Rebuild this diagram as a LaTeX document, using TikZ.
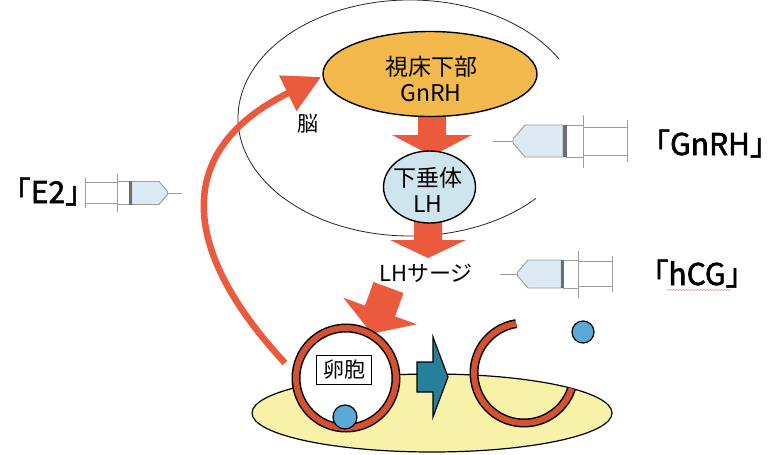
\documentclass[tikz,border=0pt]{standalone}
\usepackage{fontspec}
\newfontfamily\jp{Noto Sans CJK JP}
\newfontfamily\jpbold[FakeBold=2]{Noto Sans CJK JP}
\usetikzlibrary{shapes.geometric,arrows.meta,calc,decorations.pathmorphing}

\definecolor{arrowred}{HTML}{EC5A3E}
\definecolor{ringred}{HTML}{D45231}
\definecolor{hypo}{HTML}{F3B94D}
\definecolor{pitblue}{HTML}{CFE5EE}
\definecolor{ballblue}{HTML}{5AAAD8}
\definecolor{tealc}{HTML}{27809A}
\definecolor{ovaryc}{HTML}{F8F2A8}
\definecolor{syrgray}{HTML}{9C9C9C}
\definecolor{liquid}{HTML}{DCEBF3}
\definecolor{stopper}{HTML}{6E6E6E}
\definecolor{squiggle}{HTML}{E9A3A3}

\tikzset{
  syrline/.style={draw=syrgray, line width=0.9pt},
  % syringe with its needle tip at the origin, body along +x;
  % #1 = length of the plunger part
  pics/syringe/.style={code={
    \draw[syrline] (0,0) -- (20,0);
    \filldraw[syrline, fill=liquid] (20,-2) -- (32,-16) -- (70,-16) -- (70,16) -- (32,16) -- (20,2) -- cycle;
    \filldraw[syrline, fill=white] (73,-16) rectangle (90,16);
    \fill[stopper] (70,-16) rectangle (73.5,16);
    \filldraw[syrline, fill=white] (90,-14) rectangle (90+#1,14);
    \draw[syrline] (90,-26) -- (90,27);
    \draw[syrline] (90+#1,-21) -- (90+#1,21);
  }},
  ringline/.style={line width=9pt, black},
  ringfill/.style={line width=6pt, ringred},
  jptext/.style={font=\jp\fontsize{#1}{25.5}\selectfont},
  druglabel/.style={font=\jpbold\fontsize{30}{32}\selectfont, anchor=base, inner sep=0},
  ball/.style={circle, draw, line width=1.2pt, fill=ballblue, inner sep=0},
}

\begin{document}
\begin{tikzpicture}[x=1pt,y=-1pt]
\fill[white] (0,0) rectangle (782,455);
\useasboundingbox (0,0) rectangle (782,455);

% brain outline, open on the right
\coordinate (brain) at (410,118);
\draw[line width=0.8pt, black!85] (brain) ++(-30:172 and 118)
  arc[start angle=-30, end angle=-317, x radius=172, y radius=118];

% ovary
\node[ellipse, draw, line width=1.2pt, fill=ovaryc, minimum width=360pt,
      minimum height=78pt, inner sep=0] (ovary) at (432,413) {};

% LH surge acting on the follicle
\fill[arrowred] (373.5,282) -- (403.5,293) -- (395,316.4) -- (416.7,324.3)
  -- (371.8,333.6) -- (343.3,297.7) -- (365,305.6) -- cycle;

% feedback from the follicle to the hypothalamus
\coordinate (fbstart) at (285,363);
\coordinate (fbend) at (321,77);
\draw[arrowred, line width=6.5pt, -{Triangle[width=38pt,length=37pt]}]
  (fbstart) .. controls (180,250) and (172,150) .. (fbend);

% hypothalamus -> pituitary -> surge
\fill[arrowred] (418,110) -- (446,110) -- (446,135) -- (472,135) -- (432,156)
  -- (392,135) -- (418,135) -- cycle;
\fill[arrowred] (414,215) -- (442,215) -- (442,240) -- (466,240) -- (428,258)
  -- (390,240) -- (414,240) -- cycle;

\node[ellipse, draw, line width=1.4pt, fill=hypo, minimum width=214pt,
      minimum height=85pt, inner sep=0] (hyp) at (430,74) {};
\node[jptext=23, align=center, inner sep=0] (hyptext) at (431,79) {視床下部\\GnRH};

\node[ellipse, draw, line width=1.4pt, fill=pitblue, minimum width=92pt,
      minimum height=72pt, inner sep=0] (pit) at (429.5,187) {};
\node[jptext=23, align=center, inner sep=0] (pittext) at (428,190) {下垂体\\LH};

\node[jptext=22, inner sep=0] (surge) at (426,273) {LHサージ};
\node[jptext=21, inner sep=0] (brainlabel) at (308,124) {脳};

% follicle
\node[circle, fill=white, minimum size=100pt, inner sep=0] (fol) at (346,378) {};
\draw[ringline] (fol.center) circle[radius=50];
\draw[ringfill] (fol.center) circle[radius=50];
\node[draw, line width=1.3pt, fill=white, minimum width=55pt, minimum height=29pt,
      inner sep=0, jptext=21] (ranpo) at (344,370) {卵胞};
\node[ball, minimum size=24pt] (egg) at (345,417) {};

% ovulation
\filldraw[fill=tealc, draw=black, line width=1.2pt, line join=miter]
  (417,362) -- (433,362) -- (433,337) -- (448,377) -- (433,417) -- (433,392)
  -- (417,392) -- cycle;

\coordinate (rupt) at (524,373);
\draw[ringline] (rupt) ++(-99:50) arc[start angle=-99, end angle=-342, radius=50];
\draw[ringfill] (rupt) ++(-99:50) arc[start angle=-99, end angle=-342, radius=50];
\node[ball, minimum size=22pt] (egg2) at (583,332) {};

% injections
\pic[scale=0.72, xscale=-1] (syrE) at (182,193) {syringe=44};
\pic (syrG) at (493,141) {syringe=44};
\pic[scale=0.875] (syrH) at (500,274) {syringe=38};

\node[druglabel] (lblE) at (48,203) {「E2」};
\node[druglabel] (lblG) at (710,155) {「GnRH」};
\node[druglabel] (lblH) at (697,285) {「hCG」};
\draw[squiggle, line width=0.6pt, decorate,
      decoration={snake, amplitude=0.8pt, segment length=3pt}] (667,290) -- (731,290);
\end{tikzpicture}
\end{document}
